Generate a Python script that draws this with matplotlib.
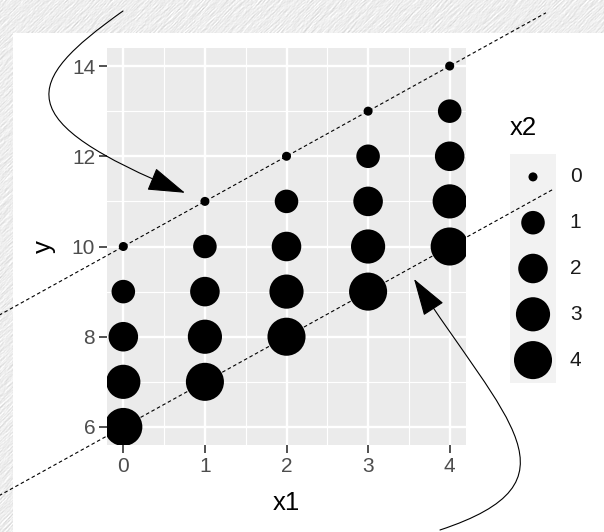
import numpy as np
import matplotlib
matplotlib.use("Agg")
import matplotlib.pyplot as plt
from matplotlib.patches import FancyArrowPatch, Rectangle
from matplotlib.path import Path

plt.rcParams['font.family'] = ['Liberation Sans', 'DejaVu Sans']

# data: one point per (x1, x2) pair
x1 = [0, 0, 0, 0, 0, 1, 1, 1, 1, 1, 2, 2, 2, 2, 2, 3, 3, 3, 3, 3, 4, 4, 4, 4, 4]
x2 = [0, 1, 2, 3, 4, 0, 1, 2, 3, 4, 0, 1, 2, 3, 4, 0, 1, 2, 3, 4, 0, 1, 2, 3, 4]
y = [10, 9, 8, 7, 6, 11, 10, 9, 8, 7, 12, 11, 10, 9, 8, 13, 12, 11, 10, 9, 14, 13, 12, 11, 10]

x2_levels = [0, 1, 2, 3, 4]
x_ticks = [0, 1, 2, 3, 4]
y_ticks = [6, 8, 10, 12, 14]

# guide lines y = a + x1
upper_intercept = 10
lower_intercept = 6


def point_size(v):
    # area scale like ggplot: diameter grows with sqrt of the value
    d = 6.5 + 20.9 * np.sqrt(np.asarray(v, dtype=float) / 4)
    return d ** 2


def paper_texture(h, w, seed=5):
    rng = np.random.default_rng(seed)
    base = rng.standard_normal((h, w))
    streak = np.zeros_like(base)
    for k in range(-3, 4):
        streak += np.roll(base, (k, -k), axis=(0, 1))
    streak /= np.sqrt(7)
    streak = 0.7 * streak + 0.3 * rng.standard_normal((h, w))
    relief = streak - np.roll(streak, (1, 1), axis=(0, 1))
    relief = (relief + np.roll(relief, 1, axis=1) + np.roll(relief, 1, axis=0)) / 3
    return np.clip(0.93 + 0.035 * relief, 0, 1)


W, H = 604, 532
fig = plt.figure(figsize=(W / 100, H / 100), dpi=100)
fig.figimage(paper_texture(H, W), xo=0, yo=0, origin='upper', cmap='gray',
             vmin=0, vmax=1, zorder=-2)
fig.add_artist(Rectangle((13 / W, 0), 1, (H - 33) / H, transform=fig.transFigure,
                         facecolor='white', edgecolor='none', zorder=-1))

# main panel
ax = fig.add_axes([107 / W, 87 / H, 359 / W, 397 / H], zorder=2)
ax.set_facecolor('#EBEBEB')
for s in ax.spines.values():
    s.set_visible(False)

ax.scatter(x1, y, s=point_size(x2), c='black', edgecolors='none', zorder=3)

xs = np.array([-1.6, 5.18])
ax.plot(xs, upper_intercept + xs, color='black', lw=0.8, ls=(0, (3.2, 2.4)),
        clip_on=False, zorder=4)
xs = np.array([-1.6, 5.27])
ax.plot(xs, lower_intercept + xs, color='black', lw=0.8, ls=(0, (3.2, 2.4)),
        clip_on=False, zorder=4)

# curved arrows pointing at the two lines
arrow_style = '-|>,head_length=2.4,head_width=0.76'
for verts in ([(-0.004, 15.22), (-1.25, 13.62), (-1.40, 12.80), (0.756, 11.19)],
              [(3.881, 3.716), (5.66, 4.78), (4.70, 6.114), (3.563, 9.28)]):
    curve = Path(verts, [Path.MOVETO, Path.CURVE4, Path.CURVE4, Path.CURVE4])
    arr = FancyArrowPatch(path=curve, arrowstyle=arrow_style, mutation_scale=10,
                          color='black', lw=0.8, transform=ax.transData,
                          clip_on=False, zorder=5)
    ax.add_patch(arr)

ax.set_xlim(-0.2, 4.2)
ax.set_ylim(5.6, 14.4)
ax.set_xticks(x_ticks)
ax.set_yticks(y_ticks)
ax.set_xticks([0.5, 1.5, 2.5, 3.5], minor=True)
ax.set_yticks([7, 9, 11, 13], minor=True)
ax.set_axisbelow(True)
ax.grid(which='major', color='white', lw=1.7)
ax.grid(which='minor', color='white', lw=0.85)
ax.tick_params(which='minor', length=0)
ax.tick_params(which='major', length=5.5, width=1.2, color='#333333',
               labelsize=15, labelcolor='#4D4D4D', pad=3)

ax.set_xlabel('x1', fontsize=18.5)
ax.xaxis.set_label_coords(0.5, -0.146)
ax.xaxis.label.set_va('center')
ax.set_ylabel('y', fontsize=18.5)
ax.yaxis.set_label_coords(-0.1755, 0.5)
ax.yaxis.label.set_va('center')

# size legend
lg = fig.add_axes([510 / W, 149 / H, 46 / W, 229 / H], zorder=1)
lg.set_facecolor('#F2F2F2')
for s in lg.spines.values():
    s.set_visible(False)
lg.set_xticks([])
lg.set_yticks([])
lg.set_xlim(-0.5, 0.5)
lg.set_ylim(4.5, -0.5)
lg.scatter([0] * len(x2_levels), x2_levels, s=point_size(x2_levels), c='black',
           edgecolors='none', clip_on=False)
for v in x2_levels:
    lg.text(0.8, v, str(v), fontsize=15, ha='left', va='center', clip_on=False,
            color='#1A1A1A')
lg.text(-0.5, -1.07, 'x2', fontsize=18.5, ha='left', va='center', clip_on=False)

fig.savefig('out.png', dpi=100)
